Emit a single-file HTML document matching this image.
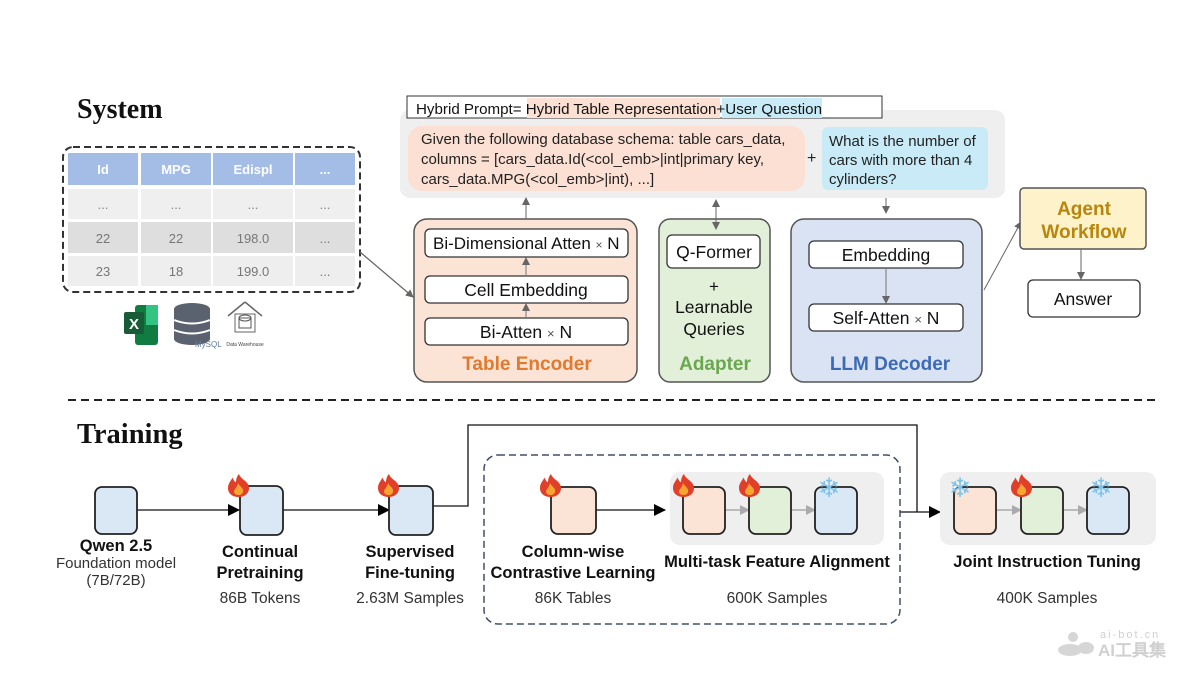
<!DOCTYPE html>
<html><head><meta charset="utf-8"><style>
html,body{margin:0;padding:0;background:#fff;}
svg{display:block;}
text{font-family:"Liberation Sans",Arial,sans-serif;}
.serif{font-family:"Liberation Serif","Times New Roman",serif;font-weight:bold;}
</style></head><body>
<svg width="1200" height="675" viewBox="0 0 1200 675" xmlns="http://www.w3.org/2000/svg">
<defs>
<marker id="ag" markerWidth="8" markerHeight="8" refX="7" refY="4" orient="auto" markerUnits="userSpaceOnUse"><path d="M0,0 L8,4 L0,8 Z" fill="#666"/></marker>
<marker id="agr" markerWidth="8" markerHeight="8" refX="1" refY="4" orient="auto" markerUnits="userSpaceOnUse"><path d="M8,0 L0,4 L8,8 Z" fill="#666"/></marker>
<marker id="ab" markerWidth="12" markerHeight="12" refX="11" refY="6" orient="auto" markerUnits="userSpaceOnUse"><path d="M0,0 L12,6 L0,12 Z" fill="#000"/></marker>
<marker id="al" markerWidth="10" markerHeight="10" refX="9" refY="5" orient="auto" markerUnits="userSpaceOnUse"><path d="M0,0 L10,5 L0,10 Z" fill="#aaa"/></marker>
<g id="fire">
<path d="M11,0 C13,6 21,7 21,14 C21,20 16,23 10.5,23 C5,23 0,20 0,14 C0,9 3,7 4.5,3.5 C6,7 7,8 8,8 C8,5 9,2 11,0 Z" fill="#e0402a"/>
<path d="M10,9 C12,13 16,14 15,18 C14,22 7,22 6,18 C6,15 9,14 10,9 Z" fill="#f7a531"/>
</g>
</defs>

<text x="77" y="118" class="serif" font-size="28" fill="#111">System</text>

<!-- table -->
<rect x="63" y="147" width="297" height="145" rx="10" fill="none" stroke="#333" stroke-width="2" stroke-dasharray="7,4"/>
<g font-size="13" text-anchor="middle">
<rect x="68" y="153" width="70" height="32" fill="#a4bde6"/><rect x="141" y="153" width="70" height="32" fill="#a4bde6"/><rect x="213" y="153" width="80" height="32" fill="#a4bde6"/><rect x="295" y="153" width="60" height="32" fill="#a4bde6"/>
<text x="103" y="174" fill="#fff" font-weight="bold">Id</text><text x="176" y="174" fill="#fff" font-weight="bold">MPG</text><text x="253" y="174" fill="#fff" font-weight="bold">Edispl</text><text x="325" y="174" fill="#fff" font-weight="bold">...</text>
<rect x="68" y="189" width="70" height="30" fill="#efefef"/><rect x="141" y="189" width="70" height="30" fill="#efefef"/><rect x="213" y="189" width="80" height="30" fill="#efefef"/><rect x="295" y="189" width="60" height="30" fill="#efefef"/>
<text x="103" y="209" fill="#888">...</text><text x="176" y="209" fill="#888">...</text><text x="253" y="209" fill="#888">...</text><text x="325" y="209" fill="#888">...</text>
<rect x="68" y="222" width="70" height="31" fill="#dedede"/><rect x="141" y="222" width="70" height="31" fill="#dedede"/><rect x="213" y="222" width="80" height="31" fill="#dedede"/><rect x="295" y="222" width="60" height="31" fill="#dedede"/>
<text x="103" y="243" fill="#777">22</text><text x="176" y="243" fill="#777">22</text><text x="253" y="243" fill="#777">198.0</text><text x="325" y="243" fill="#777">...</text>
<rect x="68" y="256" width="70" height="30" fill="#eeeeee"/><rect x="141" y="256" width="70" height="30" fill="#eeeeee"/><rect x="213" y="256" width="80" height="30" fill="#eeeeee"/><rect x="295" y="256" width="60" height="30" fill="#eeeeee"/>
<text x="103" y="276" fill="#777">23</text><text x="176" y="276" fill="#777">18</text><text x="253" y="276" fill="#777">199.0</text><text x="325" y="276" fill="#777">...</text>
</g>

<!-- icons -->
<rect x="135" y="305" width="23" height="40" rx="3" fill="#107c41"/><rect x="146" y="305" width="12" height="20" fill="#33c481"/>
<rect x="124" y="312" width="20" height="22" rx="2" fill="#185c37"/><text x="134" y="329" font-size="15" font-weight="bold" fill="#fff" text-anchor="middle">X</text>
<g fill="#5a6270"><ellipse cx="192" cy="309" rx="18" ry="6"/><rect x="174" y="309" width="36" height="30"/><ellipse cx="192" cy="339" rx="18" ry="6"/></g>
<path d="M174,320 Q192,327 210,320 M174,330 Q192,337 210,330" stroke="#fff" stroke-width="2" fill="none"/>
<text x="195" y="347" font-size="8" fill="#5f7a96">MySQL</text>
<path d="M245,302 L262,316 M245,302 L228,316" stroke="#666" stroke-width="1.5"/>
<rect x="235" y="314" width="20" height="18" fill="none" stroke="#666"/><ellipse cx="245" cy="318" rx="6" ry="3" fill="none" stroke="#555"/><rect x="239" y="318" width="12" height="10" fill="none" stroke="#555"/>
<text x="245" y="346" font-size="5" fill="#444" text-anchor="middle">Data Warehouse</text>

<line x1="360" y1="252" x2="413" y2="297" stroke="#666" stroke-width="1.3" marker-end="url(#ag)"/>

<!-- prompt panel -->
<rect x="400" y="110" width="605" height="88" rx="10" fill="#efefef"/>
<rect x="407" y="96" width="475" height="22" fill="#fff" stroke="#333" stroke-width="1"/>
<rect x="527" y="98" width="193" height="20" fill="#fbe0d3"/><rect x="722" y="98" width="100" height="20" fill="#c9ebf8"/>
<text x="416" y="114" font-size="15" fill="#111" textLength="406" lengthAdjust="spacingAndGlyphs">Hybrid Prompt= Hybrid Table Representation+User Question</text>

<rect x="408" y="126" width="397" height="65" rx="14" fill="#fbe0d3"/>
<text font-size="15" fill="#222"><tspan x="421" y="144">Given the following database schema: table cars_data,</tspan><tspan x="421" y="164">columns = [cars_data.Id(&lt;col_emb&gt;|int|primary key,</tspan><tspan x="421" y="184">cars_data.MPG(&lt;col_emb&gt;|int), ...]</tspan></text>
<text x="807" y="163" font-size="16" fill="#222">+</text>
<rect x="822" y="127" width="166" height="63" rx="6" fill="#c9ebf8"/>
<text font-size="15" fill="#222"><tspan x="829" y="146">What is the number of</tspan><tspan x="829" y="165">cars with more than 4</tspan><tspan x="829" y="184">cylinders?</tspan></text>

<!-- Table Encoder -->
<rect x="414" y="219" width="223" height="163" rx="13" fill="#fbe3d6" stroke="#555" stroke-width="1.5"/>
<rect x="425" y="229" width="203" height="28" rx="5" fill="#fff" stroke="#333" stroke-width="1.3"/>
<text x="433" y="249" font-size="17" fill="#111">Bi-Dimensional Atten <tspan font-size="12" fill="#555">×</tspan> N</text>
<rect x="425" y="276" width="203" height="27" rx="5" fill="#fff" stroke="#333" stroke-width="1.3"/>
<text x="526" y="296" font-size="17.5" fill="#111" text-anchor="middle">Cell Embedding</text>
<rect x="425" y="318" width="203" height="27" rx="5" fill="#fff" stroke="#333" stroke-width="1.3"/>
<text x="526" y="338" font-size="17.5" fill="#111" text-anchor="middle">Bi-Atten <tspan font-size="13" fill="#555">×</tspan> N</text>
<line x1="526" y1="318" x2="526" y2="304" stroke="#777" marker-end="url(#ag)"/>
<line x1="526" y1="276" x2="526" y2="258" stroke="#777" marker-end="url(#ag)"/>
<text x="527" y="370" font-size="19" font-weight="bold" fill="#e07a2e" text-anchor="middle">Table Encoder</text>
<line x1="526" y1="219" x2="526" y2="198" stroke="#666" marker-end="url(#ag)"/>

<!-- Adapter -->
<rect x="659" y="219" width="111" height="163" rx="11" fill="#e2efd9" stroke="#555" stroke-width="1.5"/>
<rect x="667" y="235" width="93" height="33" rx="5" fill="#fff" stroke="#333" stroke-width="1.3"/>
<text x="714" y="258" font-size="17.5" fill="#111" text-anchor="middle">Q-Former</text>
<text x="714" y="292" font-size="17" fill="#111" text-anchor="middle">+</text>
<text x="714" y="313" font-size="17.5" fill="#111" text-anchor="middle">Learnable</text>
<text x="714" y="335" font-size="17.5" fill="#111" text-anchor="middle">Queries</text>
<text x="715" y="370" font-size="19" font-weight="bold" fill="#6aa84f" text-anchor="middle">Adapter</text>
<line x1="716" y1="200" x2="716" y2="229" stroke="#666" marker-end="url(#ag)" marker-start="url(#agr)"/>

<!-- LLM Decoder -->
<rect x="791" y="219" width="191" height="163" rx="13" fill="#dae3f3" stroke="#555" stroke-width="1.5"/>
<rect x="809" y="241" width="154" height="27" rx="5" fill="#fff" stroke="#333" stroke-width="1.3"/>
<text x="886" y="261" font-size="17.5" fill="#111" text-anchor="middle">Embedding</text>
<rect x="809" y="304" width="154" height="27" rx="5" fill="#fff" stroke="#333" stroke-width="1.3"/>
<text x="886" y="324" font-size="17.5" fill="#111" text-anchor="middle">Self-Atten <tspan font-size="13" fill="#555">×</tspan> N</text>
<line x1="886" y1="268" x2="886" y2="303" stroke="#777" marker-end="url(#ag)"/>
<text x="890" y="370" font-size="19" font-weight="bold" fill="#3c6bb5" text-anchor="middle">LLM Decoder</text>
<line x1="886" y1="198" x2="886" y2="213" stroke="#666" marker-end="url(#ag)"/>

<!-- Agent -->
<line x1="984" y1="290" x2="1021" y2="222" stroke="#666" marker-end="url(#ag)"/>
<rect x="1020" y="188" width="126" height="61" rx="4" fill="#fef2cb" stroke="#555" stroke-width="1.5"/>
<text x="1084" y="215" font-size="19" font-weight="bold" fill="#b8860b" text-anchor="middle">Agent</text>
<text x="1084" y="238" font-size="19" font-weight="bold" fill="#b8860b" text-anchor="middle">Workflow</text>
<line x1="1081" y1="249" x2="1081" y2="279" stroke="#666" marker-end="url(#ag)"/>
<rect x="1028" y="280" width="112" height="37" rx="5" fill="#fff" stroke="#333" stroke-width="1.3"/>
<text x="1083" y="305" font-size="17.5" fill="#111" text-anchor="middle">Answer</text>

<line x1="68" y1="400" x2="1155" y2="400" stroke="#222" stroke-width="2" stroke-dasharray="8,5"/>

<text x="77" y="443" class="serif" font-size="28.5" fill="#111">Training</text>

<line x1="137" y1="510" x2="239" y2="510" stroke="#111" stroke-width="1.3" marker-end="url(#ab)"/>
<line x1="283" y1="510" x2="389" y2="510" stroke="#111" stroke-width="1.3" marker-end="url(#ab)"/>
<polyline points="433,506 468,506 468,425 917,425 917,512" fill="none" stroke="#111" stroke-width="1.3"/>
<line x1="900" y1="512" x2="940" y2="512" stroke="#111" stroke-width="1.3" marker-end="url(#ab)"/>
<line x1="596" y1="510" x2="665" y2="510" stroke="#111" stroke-width="1.3" marker-end="url(#ab)"/>

<rect x="484" y="455" width="416" height="169" rx="14" fill="none" stroke="#3e5068" stroke-width="1.5" stroke-dasharray="7,4"/>

<rect x="670" y="472" width="214" height="73" rx="10" fill="#efefef"/>
<rect x="940" y="472" width="216" height="73" rx="10" fill="#efefef"/>
<line x1="725" y1="510" x2="749" y2="510" stroke="#aaa" stroke-width="1.5" marker-end="url(#al)"/>
<line x1="791" y1="510" x2="815" y2="510" stroke="#aaa" stroke-width="1.5" marker-end="url(#al)"/>
<line x1="996" y1="510" x2="1021" y2="510" stroke="#aaa" stroke-width="1.5" marker-end="url(#al)"/>
<line x1="1063" y1="510" x2="1087" y2="510" stroke="#aaa" stroke-width="1.5" marker-end="url(#al)"/>

<g stroke="#222" stroke-width="1.8">
<rect x="95" y="487" width="42" height="47" rx="7" fill="#dae8f6"/>
<rect x="240" y="486" width="43" height="49" rx="7" fill="#dae8f6"/>
<rect x="389" y="486" width="44" height="49" rx="7" fill="#dae8f6"/>
<rect x="551" y="487" width="45" height="47" rx="7" fill="#fbe3d6"/>
<rect x="683" y="487" width="42" height="47" rx="7" fill="#fbe3d6"/>
<rect x="749" y="487" width="42" height="47" rx="7" fill="#e2efd9"/>
<rect x="815" y="487" width="42" height="47" rx="7" fill="#dae8f6"/>
<rect x="954" y="487" width="42" height="47" rx="7" fill="#fbe3d6"/>
<rect x="1021" y="487" width="42" height="47" rx="7" fill="#e2efd9"/>
<rect x="1087" y="487" width="42" height="47" rx="7" fill="#dae8f6"/>
</g>

<use href="#fire" x="228" y="474"/>
<use href="#fire" x="378" y="474"/>
<use href="#fire" x="540" y="474"/>
<use href="#fire" x="673" y="474"/>
<use href="#fire" x="739" y="474"/>
<use href="#fire" x="1011" y="474"/>
<g font-size="27" fill="#7cc3ea" text-anchor="middle" font-family="DejaVu Sans">
<text x="829" y="497">❄</text><text x="960" y="497">❄</text><text x="1101" y="497">❄</text>
</g>

<g font-size="16.5" text-anchor="middle" fill="#111">
<text x="116" y="551" font-weight="bold">Qwen 2.5</text>
<text x="116" y="568" font-size="15" fill="#333">Foundation model</text>
<text x="116" y="585" font-size="15" fill="#333">(7B/72B)</text>
<text x="260" y="557" font-weight="bold">Continual</text>
<text x="260" y="578" font-weight="bold">Pretraining</text>
<text x="260" y="603" font-size="15.5" fill="#333">86B Tokens</text>
<text x="410" y="557" font-weight="bold">Supervised</text>
<text x="410" y="578" font-weight="bold">Fine-tuning</text>
<text x="410" y="603" font-size="15.5" fill="#333">2.63M Samples</text>
<text x="573" y="557" font-weight="bold">Column-wise</text>
<text x="573" y="578" font-weight="bold">Contrastive Learning</text>
<text x="573" y="603" font-size="15.5" fill="#333">86K Tables</text>
<text x="777" y="567" font-weight="bold">Multi-task Feature Alignment</text>
<text x="777" y="603" font-size="15.5" fill="#333">600K Samples</text>
<text x="1047" y="567" font-weight="bold">Joint Instruction Tuning</text>
<text x="1047" y="603" font-size="15.5" fill="#333">400K Samples</text>
</g>

<g fill="#d6d6d6">
<circle cx="1073" cy="637" r="5"/><ellipse cx="1070" cy="650" rx="12" ry="6"/><ellipse cx="1086" cy="648" rx="8" ry="6"/>
</g>
<text x="1100" y="638" font-size="11" fill="#d0d0d0" letter-spacing="2">ai-bot.cn</text>
<text x="1098" y="656" font-size="17" font-weight="bold" fill="#d0d0d0" font-family="'Liberation Sans','Noto Sans CJK SC',sans-serif">AI工具集</text>
</svg>
</body></html>
